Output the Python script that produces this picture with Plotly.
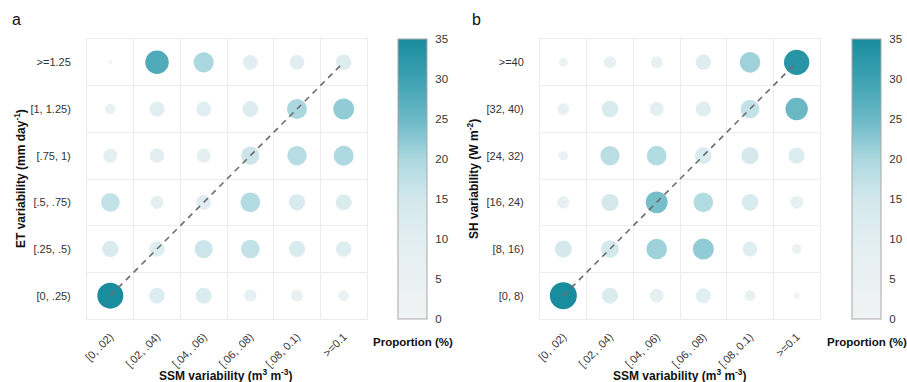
import plotly.graph_objects as go

W, H = 907, 382

ssm_bins = ["[0, .02)", "[.02, .04)", "[.04, .06)", "[.06, .08)", "[.08, 0.1)", ">=0.1"]
et_bins = ["[0, .25)", "[.25, .5)", "[.5, .75)", "[.75, 1)", "[1, 1.25)", ">=1.25"]
sh_bins = ["[0, 8)", "[8, 16)", "[16, 24)", "[24, 32)", "[32, 40)", ">=40"]

# proportion (%) rows ordered bottom -> top (matching et_bins / sh_bins), columns = ssm_bins
prop_et = [
    [35, 11.5, 12, 6.5, 6, 4.5],      # [0, .25)
    [12.5, 11, 16, 17, 12.5, 11],     # [.25, .5)
    [17, 7.5, 10, 19, 12.5, 12],      # [.5, .75)
    [9, 9.5, 9, 16, 18.5, 19.5],      # [.75, 1)
    [4.5, 10.5, 10, 11.5, 20, 22],    # [1, 1.25)
    [0.2, 28, 20, 10, 10, 11],        # >=1.25
]
prop_sh = [
    [38, 12, 8.5, 10, 5, 1],          # [0, 8)
    [14, 15, 21, 22, 10, 3.5],        # [8, 16)
    [6.5, 14, 24, 19, 13, 7],         # [16, 24)
    [3.5, 18, 19, 13, 14, 12],        # [24, 32)
    [6, 13, 8.5, 10.5, 17, 25],       # [32, 40)
    [3, 6.5, 6, 11, 21, 33],          # >=40
]
cbar_ticks = [0, 5, 10, 15, 20, 25, 30, 35]

colorscale = [
    [0.0, "#f1f3f3"], [0.29, "#e1eef1"], [0.43, "#d2e8ec"], [0.57, "#acd8e0"],
    [0.71, "#6cb9c6"], [0.86, "#3ca1b1"], [1.0, "#198c9e"],
]

FONT = "Liberation Sans, Arial, sans-serif"


def px_x(p):
    return p / W


def px_y(p):
    return 1 - p / H


def size_of(v):
    return 2 + 24 * (max(v, 0) / 35) ** 0.5


fig = go.Figure()

panels = [
    dict(data=prop_et, ylabels=et_bins, xa="x", ya="y", ca="coloraxis",
         x0=87, x1=367, cb_x=398,
         ytitle="ET variability (mm day<sup>-1</sup>)", ytitle_x=20,
         xtitle_x=226, letter="a", letter_x=10),
    dict(data=prop_sh, ylabels=sh_bins, xa="x2", ya="y2", ca="coloraxis2",
         x0=540, x1=820, cb_x=852,
         ytitle="SH variability (W m<sup>-2</sup>)", ytitle_x=473,
         xtitle_x=680, letter="b", letter_x=470),
]

y_top, y_bot = 39, 319

annotations = []
for i, p in enumerate(panels):
    xs, ys, vs = [], [], []
    for r, row in enumerate(p["data"]):
        for c, v in enumerate(row):
            xs.append(c)
            ys.append(r)
            vs.append(v)
    fig.add_trace(go.Scatter(
        x=xs, y=ys, mode="markers", xaxis=p["xa"], yaxis=p["ya"],
        marker=dict(size=[size_of(v) for v in vs], color=vs, coloraxis=p["ca"],
                    line=dict(width=0), opacity=1),
        showlegend=False, hoverinfo="text",
        text=[f"{v}%" for v in vs],
    ))
    n = len(ssm_bins) - 1
    fig.add_trace(go.Scatter(
        x=[0, n], y=[0, len(p["ylabels"]) - 1], mode="lines",
        xaxis=p["xa"], yaxis=p["ya"],
        line=dict(color="#6e6e6e", width=1.6, dash="6px,5px"),
        showlegend=False, hoverinfo="skip",
    ))

    sfx = "" if i == 0 else "2"
    grid_vals = [k - 0.5 for k in range(len(ssm_bins) + 1)]
    fig.update_layout(**{
        "xaxis" + sfx: dict(
            domain=[px_x(p["x0"]), px_x(p["x1"])], range=[-0.5, 5.5],
            tickvals=list(range(len(ssm_bins))), ticktext=ssm_bins, tickangle=-45,
            showgrid=False, zeroline=False, ticks="", ticklabelstandoff=6,
            showline=True, mirror=True, linecolor="#ececec", linewidth=1,
            minor=dict(tickvals=grid_vals, showgrid=True, gridcolor="#ececec", gridwidth=1),
            tickfont=dict(size=11, color="#333333", family=FONT),
            anchor="y" + sfx, fixedrange=True, automargin=False,
        ),
        "yaxis" + sfx: dict(
            domain=[px_y(y_bot), px_y(y_top)], range=[-0.5, 5.5],
            tickvals=list(range(len(p["ylabels"]))), ticktext=p["ylabels"],
            showgrid=False, zeroline=False, ticks="", ticklabelstandoff=13,
            showline=True, mirror=True, linecolor="#ececec", linewidth=1,
            minor=dict(tickvals=grid_vals, showgrid=True, gridcolor="#ececec", gridwidth=1),
            tickfont=dict(size=11, color="#333333", family=FONT),
            anchor="x" + sfx, fixedrange=True, automargin=False,
        ),
        p["ca"]: dict(
            cmin=0, cmax=35, colorscale=colorscale,
            colorbar=dict(
                x=px_x(p["cb_x"]), xanchor="left", xref="paper",
                y=px_y((y_top + y_bot) / 2), yanchor="middle",
                len=(y_bot - y_top) / H, lenmode="fraction",
                thickness=29, thicknessmode="pixels",
                outlinecolor="#a8a8a8", outlinewidth=1,
                tickvals=cbar_ticks, ticks="outside", ticklen=6, tickcolor="rgba(0,0,0,0)",
                tickfont=dict(size=11.5, color="#333333", family=FONT),
                xpad=0, ypad=0,
            ),
        ),
    })

    annotations += [
        dict(text=p["letter"], x=px_x(p["letter_x"]), y=px_y(20), xref="paper", yref="paper",
             showarrow=False, xanchor="left", yanchor="middle",
             font=dict(size=16, color="#111111", family=FONT)),
        dict(text="<b>" + p["ytitle"] + "</b>", x=px_x(p["ytitle_x"]), y=px_y((y_top + y_bot) / 2),
             xref="paper", yref="paper", showarrow=False, textangle=-90,
             xanchor="center", yanchor="middle",
             font=dict(size=12, color="#111111", family=FONT)),
        dict(text="<b>SSM variability (m<sup>3</sup> m<sup>-3</sup>)</b>", x=px_x(p["xtitle_x"]),
             y=px_y(375), xref="paper", yref="paper", showarrow=False,
             xanchor="center", yanchor="middle",
             font=dict(size=12, color="#111111", family=FONT)),
        dict(text="<b>Proportion (%)</b>", x=px_x(p["cb_x"] + 15), y=px_y(342),
             xref="paper", yref="paper", showarrow=False,
             xanchor="center", yanchor="middle",
             font=dict(size=11.5, color="#111111", family=FONT)),
    ]

fig.update_layout(
    width=W, height=H, margin=dict(l=0, r=0, t=0, b=0, autoexpand=False),
    paper_bgcolor="white", plot_bgcolor="white",
    annotations=annotations, font=dict(family=FONT),
)

fig.write_html(
    "out.html",
    config={"displayModeBar": False},
    post_script="document.body.style.margin='0';document.body.style.padding='0';",
)
